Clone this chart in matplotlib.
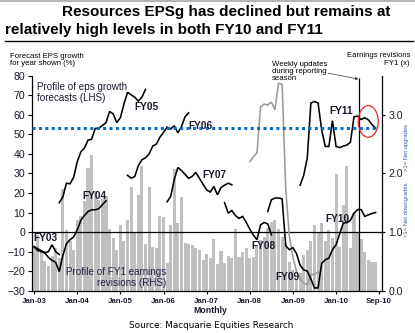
import numpy as np
import matplotlib
matplotlib.use('Agg')
import matplotlib.pyplot as plt
from matplotlib.patches import Ellipse
from matplotlib.lines import Line2D

plt.rcParams['font.family'] = ['Liberation Sans', 'DejaVu Sans']

W, H = 415, 333
NAVY = '#1a1a2e'

# slot 0 = Jan-03, one slot per month; the last few slots are weekly updates
x_ticks = [0, 12, 24, 36, 48, 60, 72, 84, 96]
x_labels = ['Jan-03', 'Jan-04', 'Jan-05', 'Jan-06', 'Jan-07',
            'Jan-08', 'Jan-09', 'Jan-10', 'Sep-10']

# FY1 earnings revisions ratio (RHS)
revisions = [
    0.75, 0.95, 0.70, 0.50, 0.42, 0.60, 0.72, 0.55, 1.74, 1.04, 0.84, 0.69,   # 2003
    1.21, 1.27, 1.53, 2.09, 2.31, 1.70, 1.55, 1.56, 1.62, 1.05, 0.90, 0.69,   # 2004
    1.12, 0.85, 1.21, 1.76, 1.00, 1.64, 2.13, 0.80, 1.76, 0.75, 0.72, 1.28,   # 2005
    1.25, 0.47, 1.12, 2.08, 1.15, 1.59, 0.81, 0.80, 0.78, 0.72, 0.69, 0.52,   # 2006
    0.62, 0.55, 0.88, 0.45, 0.67, 0.48, 0.60, 0.55, 1.05, 0.58, 0.66, 0.72,   # 2007
    0.55, 0.57, 0.78, 0.87, 0.92, 1.07, 1.18, 1.20, 1.05, 0.92, 0.81, 0.49,   # 2008
    0.35, 0.20, 0.30, 0.61, 0.70, 0.85, 1.12, 0.99, 1.15, 0.85, 1.04, 0.90,   # 2009
    1.99, 0.75, 1.47, 2.13, 0.72, 1.33, 0.98, 0.89, 0.66, 0.52, 0.49, 0.49,   # 2010 (then weekly)
]

# EPS growth forecast profiles (LHS, %), each starting at its own slot
fy03_start = 0
fy03 = [-7.5, -8.5, -9.5, -10.5, -10, -6.5, -10, -11.5]
fy04_start = 0
fy04 = [-7.5, -9.5, -10, -10.7, -13, -14.5, -15.5, -20.2, -12, -6, -3.9,
        -2.5, 1, 6, 8.5, 10.5, 11.4, 11.4, 12, 14, 16]
fy05_start = 7
fy05 = [15, 18, 25, 24.7, 28, 36, 41, 43, 47, 47.5, 53, 53.2, 54.5, 56,
        61.7, 60.5, 56, 58.5, 65.5, 71.5, 70.2, 69, 67, 69, 73]
fy06_start = 26
fy06 = [29, 27.6, 28.4, 34, 37, 38, 40, 44, 45, 48.5, 51, 53.7, 52.7, 54.4,
        50.8, 54, 59, 61]
fy07_start = 37
fy07 = [15.5, 18.2, 27, 33, 31.5, 29.5, 27.5, 28.5, 30.5, 27.5, 24.5, 21.5,
        20.5, 23.3, 19.1, 22.8, 24, 25, 24.2]
fy08_start = 53
fy08 = [15, 9.7, 11, 8.5, 7, 8, 5, 1.5, -1.5, -3.9, 3.7, 4.9, 4.2, -1.4]
fy09_start = 60
fy09 = [36, 38.5, 40.5, 64, 65.5, 65, 66.5, 62.6, 76.2, 75.5, 22, -2, -13,
        -20, -24, -26, -27, -22, -21.5, -20.5]
fy10_start = 65
fy10 = [10.5, 16.5, 17.4, 17.4, 17, -7, -9, -8, -11, -17, -19.3, -20, -24,
        -28.6, -28.6, -16, -14.2, -13.3, -9, -6.5, -1, 4.6, 4.8, 6, 9.7, 11.5,
        11.5, 8, 8.8, 9.5, 10]
fy11_start = 74
fy11 = [24, 29, 38, 66, 66.8, 66, 52.3, 43.8, 43.8, 57, 43.8, 43.2, 44, 44.5,
        46, 59, 59.3, 57.6, 58.5, 57.4, 55, 53.2]

avg_growth = 53.1      # long-run average line
weekly_from = 90.46    # start of weekly updates

profiles = [
    (fy03_start, fy03, 'black'), (fy04_start, fy04, 'black'),
    (fy05_start, fy05, 'black'), (fy06_start, fy06, 'black'),
    (fy07_start, fy07, 'black'), (fy08_start, fy08, 'black'),
    (fy09_start, fy09, '#9a9a9a'), (fy10_start, fy10, 'black'),
    (fy11_start, fy11, 'black'),
]

fy_labels = [('FY03', -0.2, -3.2, 'left'), ('FY04', 16.9, 18.3, 'center'),
             ('FY05', 31.3, 64.2, 'center'), ('FY06', 46.3, 54.4, 'center'),
             ('FY07', 50.3, 29.0, 'center'), ('FY08', 63.8, -6.9, 'center'),
             ('FY09', 70.5, -23.1, 'center'), ('FY10', 84.4, 6.7, 'center'),
             ('FY11', 85.3, 62.1, 'center')]


def fx(x):
    return x / W


def fy(y):
    return 1 - y / H


fig = plt.figure(figsize=(W / 100, H / 100), dpi=100)
left, right, top, bottom = 32.3, 381.7, 75.7, 290.7
ax = fig.add_axes([fx(left), fy(bottom), fx(right - left), (bottom - top) / H])
ax2 = ax.twinx()
ax.set_zorder(ax2.get_zorder() + 1)
ax.patch.set_visible(False)

# bars on the right axis
ax2.bar(np.arange(len(revisions)), revisions, width=0.85, color='#c0c0c0',
        linewidth=0)
ax2.set_ylim(0, 110 / 30)
ax2.set_yticks([0, 1, 2, 3])
ax2.set_yticklabels(['0.0', '1.0', '2.0', '3.0'])

for start, vals, col in profiles:
    ax.plot(np.arange(start, start + len(vals)), vals, color=col, lw=1.15,
            solid_joinstyle='miter')

ax.axhline(0, color='black', lw=0.9, zorder=1)
ax.hlines(avg_growth, -0.5, 94.8, color='#0a6fc2', lw=2.2,
          linestyles=(0, (1, 1.1)), zorder=3)
ax.vlines(weekly_from, -30, 78.7, color='black', lw=0.9)
ax.add_patch(Ellipse((92.96, 56.6), 5.56, 16.2, fill=False,
                     edgecolor='#e8262a', lw=0.9, zorder=4))

for txt, x, y, ha in fy_labels:
    ax.text(x, y, txt, ha=ha, va='center', fontsize=7.3, fontweight='bold',
            color=NAVY, zorder=5)

ax.text(0.7, 71.4, 'Profile of eps growth\nforecasts (LHS)', fontsize=7.1,
        va='center', ha='left', linespacing=1.1, color=NAVY)
ax.text(36.7, -23.1, 'Profile of FY1 earnings\nrevisions (RHS)', fontsize=7.1,
        va='center', ha='right', multialignment='right', linespacing=1.1,
        color='#202048')

ax.set_xlim(-0.5, 96.7)
ax.set_ylim(-30, 80)
ax.set_yticks(range(-30, 81, 10))
ax.set_xticks(x_ticks)
ax.set_xticklabels(x_labels, fontweight='bold', fontsize=5.7, color=NAVY)
ax.tick_params(axis='y', labelsize=7.6, length=2.9, width=0.8, pad=2.4,
               labelcolor=NAVY)
ax.tick_params(axis='x', length=2.2, width=0.8, pad=3)
ax2.tick_params(axis='y', labelsize=7.6, length=2.4, width=0.8, pad=2.4,
                labelcolor=NAVY)

for s in ['top', 'right']:
    ax.spines[s].set_visible(False)
for s in ['top', 'left', 'bottom']:
    ax2.spines[s].set_visible(False)
for a in (ax, ax2):
    for s in a.spines.values():
        s.set_linewidth(0.9)

# headline and frame
fig.add_artist(Line2D([0, 1], [fy(0.6), fy(0.6)], color='#a8a8a8', lw=1.2))
fig.text(fx(62), fy(12.3), 'Resources EPSg has declined but remains at',
         fontsize=11, fontweight='bold', va='center', ha='left')
fig.text(fx(5), fy(30), 'relatively high levels in both FY10 and FY11',
         fontsize=11, fontweight='bold', va='center', ha='left')
fig.add_artist(Line2D([fx(5), fx(413)], [fy(40.7), fy(40.7)], color='black',
                      lw=1.0))

fig.text(fx(10), fy(60), 'Forecast EPS growth\nfor year shown (%)',
         fontsize=5.6, va='center', ha='left', linespacing=1.15)
fig.text(fx(410), fy(59.5), 'Earnings revisions\nFY1 (x)', fontsize=5.6,
         va='center', ha='right', multialignment='right', linespacing=1.15)
fig.text(fx(271.7), fy(71.7), 'Weekly updates\nduring reporting\nseason',
         fontsize=5.6, va='center', ha='left', linespacing=1.05)
ax.annotate('', xy=(90.2, 78.3), xytext=(81.8, 81.3),
            arrowprops=dict(arrowstyle='-|>', lw=0.5, color='#333333',
                            mutation_scale=4, shrinkA=0, shrinkB=0),
            annotation_clip=False)

fig.text(fx(406), fy(147), '>1= Net upgrades', rotation=90, fontsize=4.2,
         va='center', ha='center', color='#3a5f9a')
fig.text(fx(406), fy(210), '<1= Net downgrades', rotation=90, fontsize=4.2,
         va='center', ha='center', color='#3a5f9a')

fig.text(fx(210), fy(310.7), 'Monthly', fontsize=6.3, fontweight='bold',
         va='center', ha='center', color=NAVY)
fig.text(fx(211), fy(325), 'Source: Macquarie Equities Research',
         fontsize=6.4, family='DejaVu Sans', va='center', ha='center')

fig.savefig('out.png', dpi=100)
